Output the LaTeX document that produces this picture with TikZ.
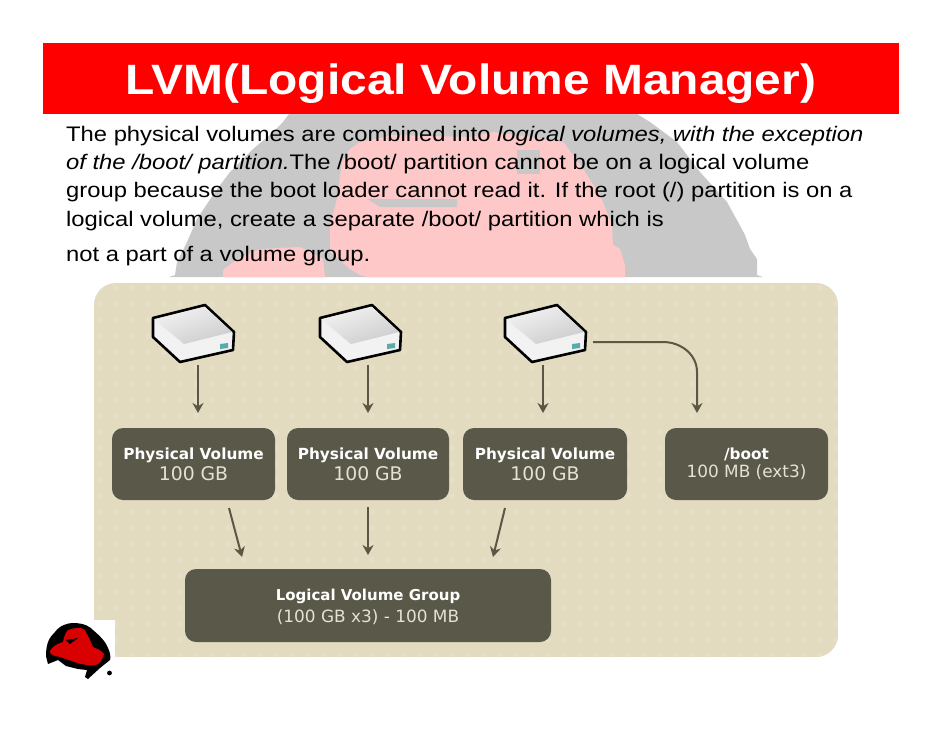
\documentclass[tikz,border=0pt]{standalone}
\usepackage{fontspec}
\setmainfont[FakeStretch=1.13]{Liberation Sans}
\newfontfamily\boxfont{DejaVu Sans}
\usetikzlibrary{arrows.meta}
\definecolor{hdr}{HTML}{FE0000}
\definecolor{wmgrey}{HTML}{C8C8C8}
\definecolor{wmpink}{HTML}{FFC8C8}
\definecolor{panel}{HTML}{E2DBC0}
\definecolor{paneldot}{HTML}{E6DFC8}
\definecolor{boxc}{HTML}{5A5849}
\definecolor{arr}{HTML}{5C5645}
\definecolor{cream}{HTML}{E6E2D2}
\tikzset{
 x=1pt,y=-1pt,
 pv/.style={draw=none,fill=boxc,rounded corners=11pt,minimum width=#1,inner sep=0pt,align=center,text=white,minimum height=72pt},
 body/.style={anchor=west,inner sep=0pt,font=\fontsize{21.05}{21.05}\selectfont},
 flow/.style={draw=arr,line width=2pt,-{Stealth[length=10pt,width=11pt]}},
}
\newcommand{\pvhead}{\boxfont\fontsize{15.3}{18}\bfseries\selectfont}
\newcommand{\lvghead}{\boxfont\fontsize{15}{18}\bfseries\selectfont}
\newcommand{\pvsize}{\color{cream}\boxfont\fontsize{18.8}{20}\selectfont}
\newcommand{\smallsize}{\color{cream}\boxfont\fontsize{16.9}{20}\selectfont}
\newcommand{\diskicon}[1]{%
 \begin{scope}[shift={(#1)}]
 \filldraw[fill=white!95!black,draw=black,line width=2.6pt,line join=round] (-39,-17) -- (13,-30) -- (42,-3) -- (41,15) -- (-12,27) -- (-39,2) -- cycle;
 \shade[left color=white!95!black,right color=black!20,shading angle=20] (-37.5,-15.5) -- (13,-28) -- (40,-3) -- (-8,9) -- cycle;
 \fill[teal!65] (28,9) -- (36,8) -- (36,13) -- (28,14) -- cycle;
 \end{scope}}
\begin{document}
\begin{tikzpicture}
\useasboundingbox (0,0) rectangle (942,728);
\fill[white] (0,0) rectangle (942,728);
% watermark
\fill[wmgrey] (169,277) -- (175,275) -- (177,262) -- (187,242) -- (197,219) -- (215,192) -- (230,172) -- (253,149) -- (270,135) -- (283,122) -- (289,114) -- (637,114) -- (650,122) -- (677,142) -- (700,172) -- (727,202) -- (738,222) -- (745,235) -- (750,249) -- (757,259) -- (757,275) -- (763,277) -- cycle;
\fill[wmpink] (367,277) -- (360,275) -- (350,269) -- (330,252) -- (330,225) -- (337,199) -- (342,162) -- (350,149) -- (360,142) -- (393,135) -- (470,137) -- (493,132) -- (563,142) -- (565,144) -- (583,169) -- (600,195) -- (612,225) -- (613,245) -- (620,249) -- (625,265) -- (625,277) -- cycle;
\fill[wmpink] (223,277) -- (223,270) -- (237,259) -- (260,249) -- (300,247) -- (323,259) -- (325,277) -- cycle;
\fill[wmgrey] (367,199) -- (457,199) -- (457,207) -- (380,207) -- cycle;
\fill[wmgrey] (517,150) rectangle (540,174);
% header
\fill[hdr] (43,43) rectangle (899,114);
\node[inner sep=0pt,text=white,font=\fontsize{42.4}{42.4}\bfseries\selectfont] (title) at (471,84) {LVM(Logical Volume Manager)};
% text
\node[body] (l1) at (66,136) {The physical volumes are combined into \textit{logical volumes, with the exception}};
\node[body] (l2) at (66,164) {\textit{of the /boot/ partition.}The /boot/ partition cannot be on a logical volume};
\node[body] (l3) at (66,192) {group because the boot loader cannot read it. If the root (/) partition is on a};
\node[body] (l4) at (66,221) {logical volume, create a separate /boot/ partition which is};
\node[body] (l5) at (66,256) {not a part of a volume group.};
% panel
\begin{scope}
\clip[rounded corners=22pt] (94,283) rectangle (838,657);
\fill[panel] (94,283) rectangle (838,657);
\foreach \i in {0,...,46}{\foreach \j in {0,...,23}{
  \fill[paneldot] ({100+16*\i},{288+16*\j}) circle (3.2);
}}
\end{scope}
% disks
\diskicon{192,335}
\diskicon{359,335}
\diskicon{544,335}
\coordinate (d1) at (198,365);
\coordinate (d2) at (368,365);
\coordinate (d3) at (543,365);
\coordinate (d3r) at (593,342);
\node[pv=163pt] (pv1) at (193.5,464) {\pvhead Physical Volume\\[3pt]\pvsize 100 GB};
\node[pv=162pt] (pv2) at (368,464) {\pvhead Physical Volume\\[3pt]\pvsize 100 GB};
\node[pv=164pt] (pv3) at (545,464) {\pvhead Physical Volume\\[3pt]\pvsize 100 GB};
\node[pv=163pt] (boot) at (746.5,464) {\pvhead /boot\\[3pt]\smallsize 100 MB (ext3)};
\node[pv=366pt,minimum height=73pt,text depth=0pt] (lvg) at (368,605.5) {\raisebox{0pt}{\lvghead Logical Volume Group}\\[5pt]\smallsize (100 GB x3) - 100 MB};
\coordinate (p1a) at (229,508);
\coordinate (p1b) at (242,557);
\coordinate (p2a) at (368,507);
\coordinate (p2b) at (368,555);
\coordinate (p3a) at (505,508);
\coordinate (p3b) at (493,557);
\draw[flow] (d1) -- (d1 |- 0,413);
\draw[flow] (d2) -- (d2 |- 0,413);
\draw[flow] (d3) -- (d3 |- 0,413);
\draw[flow] (d3r) -- (663,342) to[out=0,in=90] (697,372) -- (697,413);
\draw[flow] (p1a) -- (p1b);
\draw[flow] (p2a) -- (p2b);
\draw[flow] (p3a) -- (p3b);
% logo
\fill[white] (94,620) rectangle (115,657);
\fill[black] (46,656) .. controls (46,642) and (50,637) .. (55,632) .. controls (60,625) and (68,623) .. (73,623) .. controls (85,623) and (90,627) .. (93,630) .. controls (100,636) and (106,642) .. (108,648) .. controls (110,652) and (111,657) .. (110,660) -- (100,668) -- (88,679) -- (85,677) -- (87,670) -- (78,669) -- (66,666) -- (58,660) -- (48,664) -- cycle;
\fill[hdr!85!black] (50,651) .. controls (53,645) and (60,643) .. (63,642) .. controls (64,636) and (66,632) .. (68,630) .. controls (73,628) and (80,627) .. (84,629) .. controls (88,635) and (91,642) .. (93,647) .. controls (98,649) and (102,651) .. (104,654) .. controls (102,661) and (99,665) .. (95,665) .. controls (88,666) and (82,664) .. (77,663) .. controls (70,660) and (65,659) .. (60,657) .. controls (55,656) and (49,655) .. (50,651) -- cycle;
\fill[black] (66,640) -- (78,638) -- (70,644) -- cycle;
\fill[black] (109.5,673) circle (2.4);
\end{tikzpicture}
\end{document}
